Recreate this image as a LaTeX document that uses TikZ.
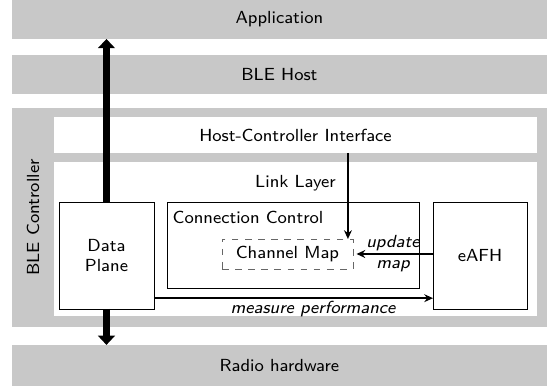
\documentclass[tikz,border=0pt]{standalone}
\usetikzlibrary{arrows.meta}
\definecolor{bandgray}{RGB}{200,200,200}
\begin{document}
\begin{tikzpicture}[font=\footnotesize\sffamily]
    \tikzset{band/.style={fill=bandgray, inner sep=0pt, outer sep=0pt},
      layer/.style={fill=white, inner sep=0pt, outer sep=0pt},
      blk/.style={draw, fill=white, inner sep=0pt, outer sep=0pt, align=center},
      bus/.style={line width=3.4pt, -{Triangle[width=7.6pt,length=4.2pt]}},
      flow/.style={thick, -{Stealth[length=4pt,width=3.6pt]}},
      lbl/.style={font=\footnotesize\sffamily\itshape}}
    \useasboundingbox (0,0) rectangle (8.855,6.203);
    % stack of layers
    \node[band, minimum width=8.6cm, minimum height=0.627cm] (app) at (4.49,5.89) {Application};
    \node[band, minimum width=8.6cm, minimum height=0.627cm] (host) at (4.49,5.006) {BLE Host};
    \node[band, minimum width=8.6cm, minimum height=3.52cm] (ctrl) at (4.49,2.708) {};
    \node[rotate=90] (ctrltxt) at (0.53,2.708) {BLE Controller};
    \node[band, minimum width=8.6cm, minimum height=0.66cm] (radio) at (4.49,0.33) {Radio hardware};
    % inside the controller
    \node[layer, minimum width=7.76cm, minimum height=0.579cm] (hci) at (4.749,4.034) {Host-Controller Interface};
    \node[layer, minimum width=7.76cm, minimum height=2.475cm] (ll) at (4.749,2.362) {};
    \node[anchor=north, inner sep=3pt, yshift=-3pt] (lltxt) at (ll.north) {Link Layer};
    \node[blk, minimum width=1.527cm, minimum height=1.72cm] (dp) at (1.711,2.097) {Data\\Plane};
    \node[blk, minimum width=4.05cm, minimum height=1.382cm] (cc) at (4.709,2.266) {};
    \node[anchor=north west, inner sep=2.4pt, yshift=-1.6pt] (cctxt) at (cc.north west) {Connection Control};
    \node[blk, draw=black!60, dashed, minimum width=2.105cm, minimum height=0.482cm] (cmap) at (4.62,2.121) {Channel Map};
    \node[blk, minimum width=1.51cm, minimum height=1.72cm] (eafh) at (7.714,2.097) {eAFH};
    % data path
    \draw[bus] (dp.north) -- (dp.north |- app.south);
    \draw[bus] (dp.south) -- (dp.south |- radio.north);
    % control path
    \draw[flow] ([xshift=-2.3pt]cmap.north east |- hci.south) -- ([xshift=-2.3pt]cmap.north east);
    \draw[flow, shorten >=1.6pt] (eafh.west |- cmap.east) -- node[lbl, align=center] (upd) {update\\map} (cmap.east);
    \draw[flow] ([yshift=0.174cm]dp.south east) -- node[lbl, pos=0.57, below, inner sep=1pt] (meas) {measure performance} ([yshift=0.174cm]eafh.south west);
\end{tikzpicture}
\end{document}
